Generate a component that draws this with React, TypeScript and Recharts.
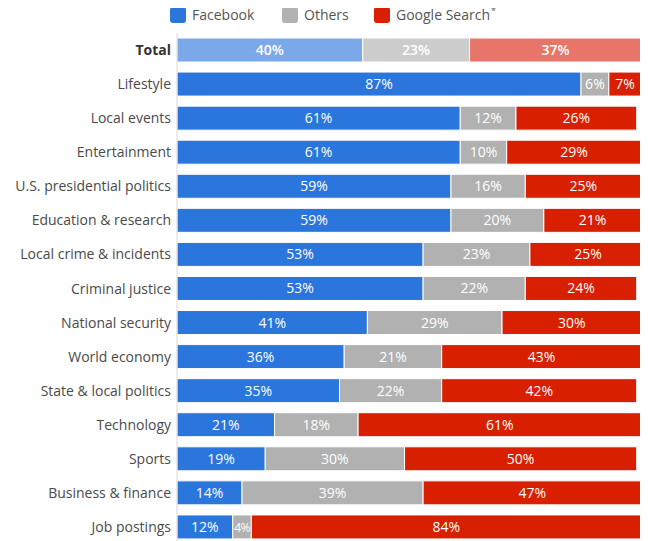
import React from "react";
import { BarChart, Bar, XAxis, YAxis, Cell, LabelList } from "recharts";

const categories = [
  "Total",
  "Lifestyle",
  "Local events",
  "Entertainment",
  "U.S. presidential politics",
  "Education & research",
  "Local crime & incidents",
  "Criminal justice",
  "National security",
  "World economy",
  "State & local politics",
  "Technology",
  "Sports",
  "Business & finance",
  "Job postings",
];
const facebook = [40, 87, 61, 61, 59, 59, 53, 53, 41, 36, 35, 21, 19, 14, 12];
const others = [23, 6, 12, 10, 16, 20, 23, 22, 29, 21, 22, 18, 30, 39, 4];
const google = [37, 7, 26, 29, 25, 21, 25, 24, 30, 43, 42, 61, 50, 47, 84];

const data = categories.map((name, i) => ({
  name,
  facebook: facebook[i],
  others: others[i],
  google: google[i],
}));

const COLORS = {
  facebook: "#2a76dd",
  others: "#b1b1b1",
  google: "#d81f00",
};
const TOTAL_COLORS = {
  facebook: "#7aa8e8",
  others: "#cccccc",
  google: "#e8756a",
};

const FONT = "'Open Sans', sans-serif";

const CategoryTick = (props: any) => {
  const { x, y, payload } = props;
  const isTotal = payload.value === "Total";
  return (
    <text
      x={x}
      y={y}
      dy={5}
      textAnchor="end"
      fill={isTotal ? "#333333" : "#4a4a4a"}
      fontFamily={FONT}
      fontSize={14}
      fontWeight={isTotal ? 700 : 400}
    >
      {payload.value}
    </text>
  );
};

const makeLabel = (key: string) => (props: any) => {
  const { x, y, width, height, value, index } = props;
  const isTotal = index === 0;
  const small = width < 22;
  return (
    <text
      x={x + width / 2}
      y={y + height / 2}
      dy={5}
      textAnchor="middle"
      fill="#ffffff"
      fontFamily={FONT}
      fontSize={small ? 12 : 14}
      fontWeight={isTotal ? 600 : 400}
      letterSpacing={small ? -0.6 : 0}
    >
      {value}%
    </text>
  );
};

const Legend = () => {
  const items = [
    { label: "Facebook", color: COLORS.facebook, x: 170 },
    { label: "Others", color: COLORS.others, x: 282 },
    { label: "Google Search", color: COLORS.google, x: 374, star: true },
  ];
  return (
    <div style={{ position: "relative", height: 0 }}>
      {items.map((it) => (
        <div
          key={it.label}
          style={{
            position: "absolute",
            left: it.x - 8,
            top: -3,
            display: "flex",
            alignItems: "center",
            fontFamily: FONT,
            fontSize: 14,
            lineHeight: "20px",
            color: "#555555",
          }}
        >
          <span
            style={{
              display: "inline-block",
              width: 16,
              height: 16,
              borderRadius: 3,
              background: it.color,
              marginRight: 6,
            }}
          />
          <span>{it.label}</span>
          {it.star ? (
            <span style={{ fontSize: 9, lineHeight: "9px", position: "relative", top: -5, marginLeft: 1 }}>*</span>
          ) : null}
        </div>
      ))}
    </div>
  );
};

export default function App() {
  const keys: ("facebook" | "others" | "google")[] = ["facebook", "others", "google"];
  return (
    <div style={{ width: 640, position: "relative" }}>
      <Legend />
      <BarChart
        width={640}
        height={540}
        data={data}
        layout="vertical"
        margin={{ top: 25, right: 2, bottom: 4, left: 0 }}
        barSize={24}
      >
        <XAxis type="number" hide domain={[0, 101]} />
        <YAxis
          type="category"
          dataKey="name"
          width={169}
          tickLine={false}
          tickSize={0}
          tickMargin={6}
          axisLine={{ stroke: "#d8d8d8" }}
          tick={<CategoryTick />}
          interval={0}
        />
        {keys.map((k) => (
          <Bar
            key={k}
            dataKey={k}
            stackId="a"
            fill={COLORS[k]}
            stroke="#ffffff"
            strokeWidth={1}
            isAnimationActive={false}
          >
            {data.map((d, i) => (
              <Cell key={i} fill={i === 0 ? TOTAL_COLORS[k] : COLORS[k]} />
            ))}
            <LabelList dataKey={k} content={makeLabel(k)} />
          </Bar>
        ))}
      </BarChart>
    </div>
  );
}
